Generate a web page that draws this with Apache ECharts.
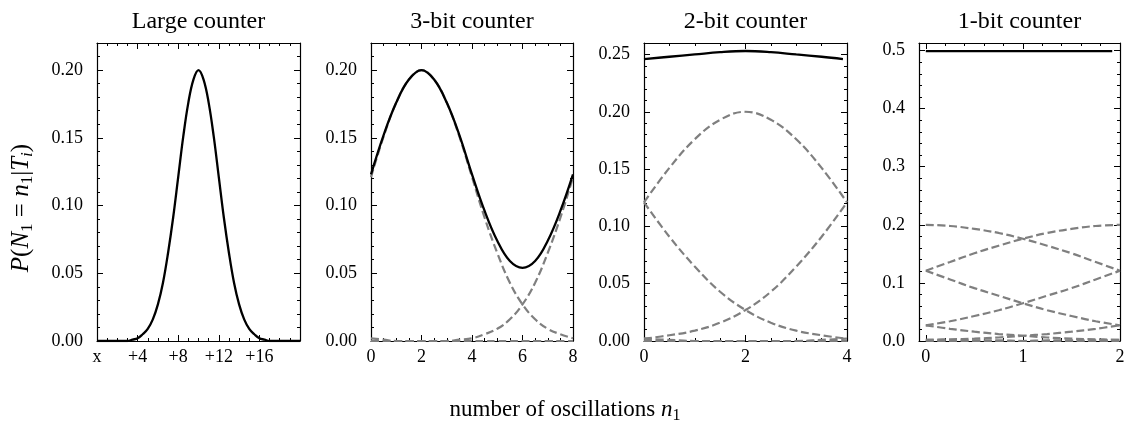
<!DOCTYPE html>
<html><head><meta charset="utf-8">
<script src="https://cdn.jsdelivr.net/npm/echarts@6/dist/echarts.min.js"></script>
<style>html,body{margin:0;padding:0;background:#fff}#c{width:1128px;height:429px}</style>
</head><body><div id="c"></div>
<script>
// ---------- data ----------
const titles = ['Large counter', '3-bit counter', '2-bit counter', '1-bit counter'];

// Panel 1: large counter
const p1X = [0,0.5,1,1.5,2,2.5,3,3.5,4,4.5,5,5.5,6,6.5,7,7.5,8,8.5,9,9.5,10,10.5,11,11.5,12,12.5,13,13.5,14,14.5,15,15.5,16,16.5,17,17.5,18,18.5,19,19.5,20];
const p1Y = [0,0,0,0,0,0,0,0.001,0.002,0.005,0.009,0.016,0.027,0.043,0.065,0.091,0.121,0.151,0.176,0.193,0.2,0.193,0.176,0.151,0.121,0.091,0.065,0.043,0.027,0.016,0.009,0.005,0.002,0.001,0,0,0,0,0,0,0];

// Panel 2: 3-bit counter
const p2X = [0,0.5,1,1.5,2,2.5,3,3.5,4,4.5,5,5.5,6,6.5,7,7.5,8];
const p2Total = [0.123,0.152,0.176,0.193,0.2,0.193,0.176,0.152,0.123,0.096,0.074,0.059,0.054,0.059,0.074,0.096,0.123];
const p2A = [0.121,0.151,0.176,0.193,0.2,0.193,0.176,0.151,0.121,0.091,0.065,0.043,0.027,0.016,0.009,0.005,0.002];
const p2B = [0,0,0,0,0,0,0,0.001,0.002,0.005,0.009,0.016,0.027,0.043,0.065,0.091,0.121];
const p2C = [0.002,0.001,0,0,0,0,0,0,0,0,0,0,0,0,0,0,0];

// Panel 3: 2-bit counter
const p3X = [0,0.5,1,1.5,2,2.5,3,3.5,4];
const p3TotalX = [0,0.5,1,1.5,2,2.5,3,3.5,3.92];
const p3Total = [0.246,0.248,0.25,0.252,0.253,0.252,0.25,0.248,0.246];
const p3A = [0.121,0.151,0.176,0.193,0.2,0.193,0.176,0.151,0.121];
const p3B = [0.002,0.005,0.009,0.016,0.027,0.043,0.065,0.091,0.121];
const p3C = [0.121,0.091,0.065,0.043,0.027,0.016,0.009,0.005,0.002];
const p3D = [0,0,0,0,0,0,0,0.001,0.002];
const p3E = [0.002,0.001,0,0,0,0,0,0,0];

// Panel 4: 1-bit counter
const p4X = [0,0.25,0.5,0.75,1,1.25,1.5,1.75,2];
const p4TotalX = [0,0.25,0.5,0.75,1,1.25,1.5,1.75,1.92];
const p4Total = [0.499,0.499,0.499,0.499,0.499,0.499,0.499,0.499,0.499];
const p4A = [0.2,0.198,0.193,0.186,0.176,0.164,0.151,0.136,0.121];
const p4B = [0.121,0.136,0.151,0.164,0.176,0.186,0.193,0.198,0.2];
const p4C = [0.121,0.106,0.091,0.078,0.065,0.053,0.043,0.034,0.027];
const p4D = [0.027,0.034,0.043,0.053,0.065,0.078,0.091,0.106,0.121];
const p4E = [0.027,0.021,0.016,0.012,0.009,0.006,0.004,0.003,0.002];
const p4F = [0.002,0.003,0.004,0.006,0.009,0.012,0.016,0.021,0.027];
const p4G = [0.002,0.001,0.001,0.001,0,0,0,0,0];
const p4H = [0,0,0,0,0,0.001,0.001,0.001,0.002];

const p4XTicks = [0, 1, 2];
const p4XMinorTicks = [0.2,0.4,0.6,0.8,1.2,1.4,1.6,1.8];

// ---------- layout / style ----------
const FONT = 'Liberation Serif';
const GRAY = '#7f7f7f';
const panels = [
  { grid: {left: 97, top: 43, width: 203, height: 298},
    x: {min: 0, max: 20, interval: 4, minor: 1, hideMax: true, fmt: v => v === 0 ? 'x' : '+' + v},
    y: {max: 0.22, interval: 0.05, minor: 0.01, dec: 2},
    solid: [[p1X, p1Y]], dashed: [] },
  { grid: {left: 371, top: 43, width: 202, height: 298},
    x: {min: 0, max: 8, interval: 2, minor: 0.5, fmt: v => String(v)},
    y: {max: 0.22, interval: 0.05, minor: 0.01, dec: 2},
    solid: [[p2X, p2Total]], dashed: [[p2X, p2A], [p2X, p2B], [p2X, p2C]] },
  { grid: {left: 644, top: 43, width: 203, height: 298},
    x: {min: 0, max: 4, interval: 2, minor: 0.5, fmt: v => String(v)},
    y: {max: 0.26, interval: 0.05, minor: 0.01, dec: 2},
    solid: [[p3TotalX, p3Total]], dashed: [[p3X, p3A], [p3X, p3B], [p3X, p3C], [p3X, p3D], [p3X, p3E]] },
  { grid: {left: 919, top: 43, width: 201, height: 298},
    x: {min: -0.07, max: 2, custom: p4XTicks, customMinor: p4XMinorTicks, fmt: v => String(v)},
    y: {max: 0.513, interval: 0.1, minor: 0.02, dec: 1},
    solid: [[p4TotalX, p4Total]], dashed: [[p4X, p4A], [p4X, p4B], [p4X, p4C], [p4X, p4D], [p4X, p4E], [p4X, p4F], [p4X, p4G], [p4X, p4H]] }
];

const line = {color: '#000', width: 1.2};
const grids = [], xAxes = [], yAxes = [], series = [];

function axisSet(list, gi, dim, pos, cfg, major, labels) {
  const a = {
    type: 'value', gridIndex: gi, position: pos,
    min: dim === 'x' ? cfg.min : 0, max: cfg.max,
    axisLine: {show: major, onZero: false, lineStyle: line},
    axisTick: {show: true, inside: true, length: major ? 6 : 3, lineStyle: {color: '#000', width: 1}},
    axisLabel: {show: labels},
    splitLine: {show: false}, minorTick: {show: false}
  };
  if (cfg.custom) {
    a.axisTick.customValues = major ? cfg.custom : cfg.customMinor;
    if (labels) a.axisLabel.customValues = cfg.custom;
  } else {
    a.interval = major ? cfg.interval : cfg.minor;
  }
  if (labels) {
    Object.assign(a.axisLabel, {
      fontFamily: FONT, fontSize: 18, color: '#000',
      margin: dim === 'x' ? 7 : 14,
      showMaxLabel: !(dim === 'y' || cfg.hideMax),
      formatter: dim === 'x' ? cfg.fmt : (v => v.toFixed(cfg.dec))
    });
  }
  list.push(a);
  return list.length - 1;
}

panels.forEach((p, gi) => {
  grids.push(Object.assign({show: false}, p.grid));
  const xi = axisSet(xAxes, gi, 'x', 'bottom', p.x, true, true);
  axisSet(xAxes, gi, 'x', 'bottom', p.x, false, false);
  axisSet(xAxes, gi, 'x', 'top', p.x, true, false);
  axisSet(xAxes, gi, 'x', 'top', p.x, false, false);
  const yi = axisSet(yAxes, gi, 'y', 'left', p.y, true, true);
  axisSet(yAxes, gi, 'y', 'left', p.y, false, false);
  axisSet(yAxes, gi, 'y', 'right', p.y, true, false);
  axisSet(yAxes, gi, 'y', 'right', p.y, false, false);
  p.dashed.forEach(([xs, ys]) => series.push({
    type: 'line', xAxisIndex: xi, yAxisIndex: yi, showSymbol: false, smooth: 0.4, z: 2,
    lineStyle: {color: GRAY, width: 2.2, type: [8, 3.6]},
    data: xs.map((x, i) => [x, ys[i]])
  }));
  p.solid.forEach(([xs, ys]) => series.push({
    type: 'line', xAxisIndex: xi, yAxisIndex: yi, showSymbol: false, smooth: 0.4, z: 3,
    lineStyle: {color: '#000', width: 2.3},
    data: xs.map((x, i) => [x, ys[i]])
  }));
});

const rich = {
  n: {fontFamily: FONT, fontSize: 25, lineHeight: 30, color: '#000'},
  i: {fontFamily: FONT, fontSize: 25, lineHeight: 30, fontStyle: 'italic', color: '#000'},
  s: {fontFamily: FONT, fontSize: 17, lineHeight: 17, verticalAlign: 'bottom', color: '#000'},
  si: {fontFamily: FONT, fontSize: 17, lineHeight: 17, verticalAlign: 'bottom', fontStyle: 'italic', color: '#000'}
};
const richX = {
  n: {fontFamily: FONT, fontSize: 23, lineHeight: 28, color: '#000'},
  i: {fontFamily: FONT, fontSize: 23, lineHeight: 28, fontStyle: 'italic', color: '#000'},
  s: {fontFamily: FONT, fontSize: 16, lineHeight: 16, verticalAlign: 'bottom', color: '#000'}
};

const graphics = titles.map((t, i) => ({
  type: 'text',
  x: panels[i].grid.left + panels[i].grid.width / 2, y: 22,
  style: {text: t, fontFamily: FONT, fontSize: 24, fill: '#000', align: 'center', verticalAlign: 'middle'}
}));
graphics.push({
  type: 'text', x: 565, y: 410,
  style: {text: '{n|number of oscillations }{i|n}{s|1}', rich: richX, align: 'center', verticalAlign: 'middle'}
});
graphics.push({
  type: 'text', x: 21, y: 208, rotation: Math.PI / 2,
  style: {text: '{i|P}{n|(}{i|N}{s|1}{n| = }{i|n}{s|1}{n||}{i|T}{si|i}{n|)}', rich: rich, align: 'center', verticalAlign: 'middle'}
});

const chart = echarts.init(document.getElementById('c'), null, {renderer: 'canvas'});
chart.setOption({
  animation: false,
  backgroundColor: '#fff',
  grid: grids, xAxis: xAxes, yAxis: yAxes, series: series,
  graphic: graphics
});
</script></body></html>
